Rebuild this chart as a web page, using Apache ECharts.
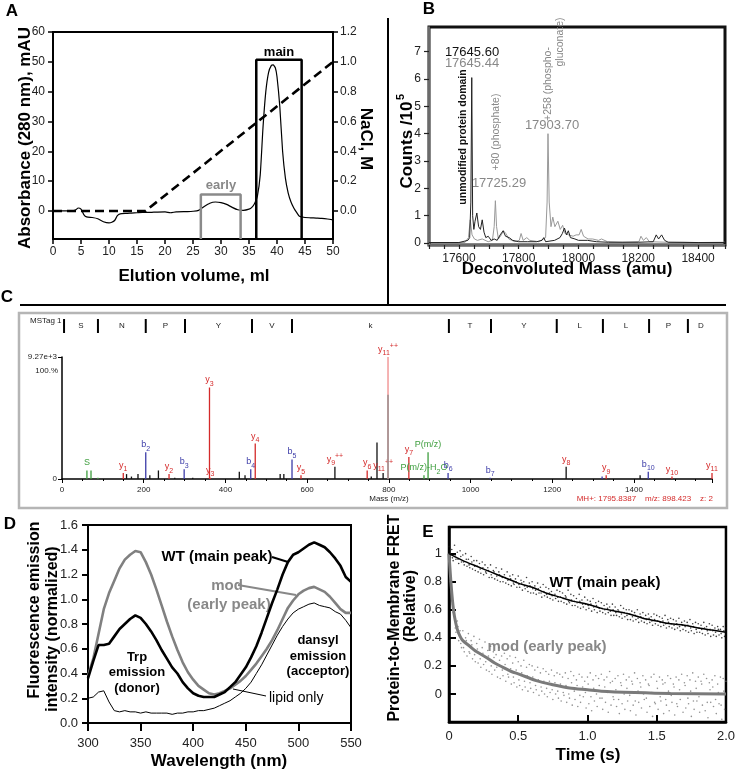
<!DOCTYPE html>
<html>
<head>
<meta charset="utf-8">
<script src="https://cdn.jsdelivr.net/npm/echarts@6/dist/echarts.min.js"></script>
<style>
html,body{margin:0;padding:0;background:#fff;}
#chart{width:738px;height:772px;}
</style>
</head>
<body>
<div id="chart"></div>
<script>
// ---- A: anion exchange elution ----
var elutionVol = [0,1,2,3,4,4.5,5,5.5,6,7,8,9,10,10.5,11,11.5,12,13,14,15,16,17,18,20,21,22,24,25,26,27,28,29,30,31,32,33,34,35,35.5,36,36.5,37,37.5,38,38.5,39,39.3,39.7,40,40.5,41,41.5,42,42.5,43,43.5,44,45,46,47,48,49,50];
var absorbance = [0,0,0,0,0.3,1.0,0.6,-1.2,-2.0,-2.2,-2.6,-3.6,-4.0,-3.8,-3.2,-1.6,-1.0,-0.8,-0.7,-0.6,-0.5,-0.5,-0.4,-0.3,-0.6,-0.3,-0.2,-0.1,0.2,1.5,2.6,3.0,2.8,2.2,1.2,0.4,0.2,0.6,1.2,2.5,5,12,28,40,46.5,48.8,49,48,45,35,20,11,6,3,1,-0.5,-1.8,-2.2,-2.3,-2.4,-2.5,-2.7,-3.0];
var gradientVol = [0,16.5,50];
var gradientNaCl = [0,0,1.0];
var earlyRange = [26.4,33.5], earlyTop = 5.5;
var mainRange = [36.3,44.4], mainTop = 50.7;
var absTicks = [0,10,20,30,40,50,60];
var naclTicks = [0,0.2,0.4,0.6,0.8,1.0,1.2];

// ---- B: deconvoluted mass spectra ----
var massBlack = [17500,17600,17630,17636,17640,17643,17646,17650,17654,17660,17666,17672,17678,17684,17690,17698,17708,17718,17728,17738,17748,17756,17768,17780,17800,17830,17860,17878,17884,17890,17920,17938,17946,17953,17960,17966,17973,17988,18000,18030,18060,18100,18200,18250,18260,18268,18278,18288,18300,18400,18490];
var countBlack = [0.02,0.02,0.1,0.2,1.5,6.05,1.0,0.5,0.8,1.1,0.6,0.5,0.85,0.4,0.2,0.25,0.1,0.15,0.1,0.3,0.45,0.25,0.2,0.1,0.05,0.05,0.05,0.1,0.2,0.05,0.1,0.2,0.35,0.55,0.3,0.45,0.2,0.15,0.1,0.1,0.05,0.03,0.03,0.05,0.3,0.15,0.3,0.1,0.03,0.02,0.02];
var massGray = [17500,17620,17632,17638,17644,17652,17662,17678,17698,17712,17718,17722,17726,17732,17742,17749,17757,17767,17787,17802,17808,17815,17827,17837,17867,17890,17895,17898,17902,17908,17914,17921,17931,17939,17947,17955,17967,17982,17992,18002,18009,18017,18032,18047,18067,18077,18097,18147,18202,18209,18217,18227,18237,18297,18347,18400,18490];
var countGray = [0.02,0.02,0.2,0.85,0.3,0.15,0.1,0.15,0.05,0.1,0.6,1.55,0.6,0.15,0.3,0.45,0.35,0.15,0.05,0.1,0.35,0.1,0.2,0.1,0.05,0.2,1.5,4.0,1.5,0.6,0.95,0.6,0.8,0.5,0.65,0.35,0.3,0.25,0.3,0.3,0.5,0.25,0.15,0.15,0.1,0.15,0.05,0.03,0.05,0.25,0.1,0.2,0.05,0.03,0.03,0.02,0.03];
var countTicks = [0,1,2,3,4,5,6,7];

// ---- C: MS/MS spectrum ----
var msMz = [61,71,88,150,158,170,186,205,215,236,262,276,299,320,361,363,434,448,462,473,534,543,563,585,668,747,757,771,786,798,798,849,886,896,945,1048,1234,1322,1332,1415,1435,1493,1591];
var msRel = [0.07,0.07,0.01,0.05,0.04,0.02,0.04,0.22,0.03,0.07,0.04,0.01,0.08,0.01,0.75,0.01,0.06,0.03,0.08,0.29,0.04,0.04,0.16,0.03,0.10,0.07,0.02,0.30,0.05,1.0,0.69,0.18,0.03,0.22,0.05,0.01,0.10,0.02,0.03,0.03,0.06,0.02,0.05];
var msKind = ['g','g','g','y','k','k','k','b','k','k','y','k','b','k','y','y','k','k','b','y','k','k','b','y','k','y','k','k','k','p','x','y','g','g','b','b','k','b','y','k','b','y','y'];
var msLabel = ['S','','','y_1','','','','b_2','','','y_2','','b_3','','y_3','y_3','','','b_4','y_4','','','b_5','y_5','y_9^++','y_6','','','y_11^++','y_11^++','','y_7','P(m/z)-H_2O','P(m/z)','b_6','b_7','y_8','','y_9','','b_10','y_10','y_11'];
var seqMass = [5,88,205,301,465,563,947,1050,1211,1324,1437,1532,1596];
var seqLetters = ['S','N','P','Y','V','k','T','Y','L','L','P','D'];

// ---- D: emission spectra ----
var wavelengths = [300,305,310,315,320,325,330,335,340,345,350,355,360,365,370,375,380,385,390,395,400,405,410,415,420,425,430,435,440,445,450,455,460,465,470,475,480,485,490,495,500,505,510,515,520,525,530,535,540,545,550];
var wtEmission = [0.36,0.50,0.63,0.63,0.64,0.70,0.76,0.80,0.84,0.87,0.85,0.80,0.74,0.67,0.59,0.52,0.45,0.40,0.33,0.28,0.24,0.22,0.21,0.21,0.21,0.23,0.25,0.29,0.33,0.39,0.45,0.53,0.62,0.73,0.85,0.97,1.08,1.20,1.30,1.36,1.38,1.41,1.44,1.46,1.44,1.42,1.38,1.33,1.27,1.18,1.14];
var modEmission = [0.38,0.52,0.72,0.92,1.05,1.15,1.25,1.32,1.36,1.39,1.38,1.30,1.20,1.08,0.95,0.82,0.70,0.59,0.49,0.41,0.35,0.30,0.27,0.24,0.23,0.24,0.26,0.28,0.31,0.34,0.38,0.43,0.48,0.54,0.60,0.67,0.75,0.84,0.93,0.99,1.04,1.07,1.09,1.10,1.08,1.06,1.02,0.97,0.92,0.89,0.89];
var lipidEmission = [0.20,0.21,0.25,0.26,0.17,0.10,0.09,0.10,0.09,0.09,0.08,0.09,0.08,0.08,0.08,0.08,0.07,0.08,0.08,0.09,0.09,0.10,0.10,0.11,0.12,0.14,0.16,0.18,0.21,0.24,0.28,0.33,0.40,0.47,0.55,0.63,0.71,0.78,0.84,0.89,0.92,0.94,0.96,0.97,0.95,0.94,0.93,0.90,0.88,0.83,0.77];

// ---- E: stopped-flow FRET (points every 0.02 s, three interleaved reads) ----
var scatterStep = 0.02;
var wtPointsA = [1.05,1.03,1.06,1.01,1.02, 0.99,1.00,0.96,0.98,0.95, 0.95,0.93,0.94,0.92,0.90, 0.92,0.88,0.90,0.87,0.89, 0.85,0.87,0.84,0.85,0.82, 0.84,0.81,0.80,0.83,0.79, 0.80,0.77,0.79,0.76,0.78, 0.76,0.75,0.73,0.77,0.74, 0.73,0.72,0.70,0.74,0.71, 0.70,0.68,0.71,0.67,0.69, 0.67,0.66,0.68,0.65,0.66, 0.65,0.63,0.64,0.62,0.64, 0.62,0.60,0.63,0.61,0.60, 0.60,0.59,0.58,0.60,0.57, 0.58,0.56,0.57,0.55,0.57, 0.56,0.55,0.54,0.56,0.53, 0.54,0.53,0.52,0.54,0.51, 0.52,0.51,0.53,0.50,0.51, 0.50,0.49,0.51,0.48,0.50, 0.49,0.47,0.48,0.46,0.48, 0.47];
var wtPointsB = [0.97,0.95,0.96,0.93,0.94, 0.92,0.91,0.90,0.89,0.88, 0.87,0.86,0.85,0.86,0.83, 0.83,0.82,0.81,0.80,0.80, 0.79,0.78,0.77,0.78,0.76, 0.76,0.74,0.75,0.73,0.72, 0.72,0.71,0.72,0.69,0.70, 0.69,0.68,0.67,0.68,0.66, 0.66,0.65,0.64,0.65,0.63, 0.63,0.62,0.61,0.62,0.60, 0.61,0.59,0.60,0.58,0.59, 0.58,0.57,0.58,0.56,0.56, 0.56,0.55,0.54,0.55,0.53, 0.53,0.52,0.53,0.51,0.52, 0.51,0.50,0.51,0.49,0.50, 0.49,0.48,0.49,0.47,0.48, 0.47,0.46,0.47,0.45,0.46, 0.45,0.44,0.45,0.43,0.44, 0.44,0.43,0.42,0.43,0.41, 0.42,0.41,0.42,0.40,0.41];
var wtPointsC = [1.00,0.97,0.99,0.96,0.98, 0.94,0.96,0.92,0.94,0.91, 0.91,0.89,0.90,0.87,0.88, 0.85,0.87,0.84,0.85,0.83, 0.83,0.81,0.82,0.79,0.80, 0.78,0.79,0.77,0.76,0.77, 0.75,0.74,0.75,0.72,0.73, 0.71,0.72,0.70,0.71,0.69, 0.69,0.68,0.69,0.66,0.67, 0.66,0.65,0.66,0.64,0.64, 0.63,0.64,0.62,0.63,0.61, 0.61,0.60,0.61,0.59,0.60, 0.58,0.59,0.57,0.58,0.56, 0.57,0.55,0.56,0.54,0.55, 0.54,0.53,0.54,0.52,0.53, 0.52,0.51,0.52,0.50,0.51, 0.50,0.49,0.50,0.48,0.49, 0.48,0.49,0.47,0.48,0.46, 0.47,0.46,0.47,0.45,0.46, 0.45,0.44,0.46,0.43,0.45];
var modPointsA = [0.98,0.70,0.60,0.52,0.45, 0.45,0.40,0.43,0.38,0.41, 0.36,0.39,0.33,0.37,0.31, 0.34,0.30,0.28,0.33,0.27, 0.29,0.25,0.27,0.22,0.26, 0.23,0.20,0.24,0.19,0.21, 0.20,0.17,0.19,0.15,0.18, 0.16,0.14,0.17,0.13,0.15, 0.14,0.12,0.15,0.11,0.16, 0.13,0.10,0.14,0.12,0.09, 0.12,0.15,0.10,0.13,0.11, 0.14,0.10,0.12,0.16,0.09, 0.11,0.13,0.08,0.14,0.10, 0.12,0.09,0.15,0.11,0.08, 0.13,0.10,0.07,0.12,0.14, 0.09,0.12,0.10,0.08,0.13, 0.11,0.07,0.12,0.10,0.14, 0.08,0.13,0.10,0.15,0.09, 0.12,0.09,0.14,0.11,0.08, 0.10,0.13,0.07,0.12,0.11, 0.09];
var modPointsB = [0.80,0.58,0.44,0.38,0.33, 0.30,0.27,0.29,0.25,0.23, 0.22,0.19,0.21,0.17,0.16, 0.14,0.17,0.12,0.11,0.13, 0.09,0.12,0.07,0.08,0.05, 0.06,0.03,0.05,0.02,0.04, 0.01,0.03,-0.01,0.02,0.00, -0.02,0.01,-0.04,0.00,-0.03, -0.05,-0.01,-0.06,-0.03,-0.08, -0.04,-0.09,-0.06,-0.02,-0.10, -0.07,-0.12,-0.05,-0.09,-0.03, -0.11,-0.06,-0.13,-0.08,-0.04, -0.09,-0.14,-0.07,-0.11,-0.05, -0.12,-0.08,-0.15,-0.06,-0.10, -0.04,-0.13,-0.09,-0.16,-0.07, -0.11,-0.05,-0.14,-0.08,-0.12, -0.06,-0.15,-0.09,-0.04,-0.13, -0.10,-0.07,-0.16,-0.11,-0.05, -0.13,-0.08,-0.12,-0.17,-0.06, -0.09,-0.14,-0.07,-0.18,-0.11];
var modPointsC = [0.90,0.64,0.47,0.48,0.36, 0.33,0.38,0.30,0.35,0.28, 0.32,0.25,0.29,0.23,0.27, 0.20,0.26,0.19,0.24,0.17, 0.21,0.14,0.18,0.12,0.17, 0.10,0.15,0.09,0.13,0.08, 0.12,0.06,0.10,0.05,0.09, 0.04,0.09,0.03,0.08,0.02, 0.07,0.01,0.06,0.00,0.08, 0.02,0.06,-0.01,0.05,0.01, 0.07,-0.02,0.04,0.00,0.06, -0.03,0.05,0.01,0.08,-0.02, 0.03,-0.04,0.06,0.00,0.04, -0.01,0.07,-0.05,0.02,0.05, 0.00,-0.03,0.06,0.01,-0.06, 0.04,-0.02,0.07,-0.04,0.02, -0.01,0.05,-0.07,0.03,0.00, 0.06,-0.03,0.02,-0.05,0.04, -0.02,0.07,0.00,-0.06,0.03, 0.05,-0.04,0.01,-0.08,0.02];
var wtFitTime = [0,0.1,0.2,0.3,0.4,0.5,0.6,0.7,0.8,0.9,1.0,1.1,1.2,1.3,1.4,1.5,1.6,1.7,1.8,1.9,2.0];
var wtFitRel = [1.00,0.95,0.91,0.87,0.83,0.79,0.76,0.72,0.69,0.66,0.64,0.61,0.59,0.57,0.54,0.52,0.50,0.49,0.47,0.455,0.44];
var modFitTime = [0,0.01,0.02,0.03,0.04,0.06,0.08,0.1,0.15,0.2,0.27,0.33,0.39,0.45,0.51,0.63,0.75,0.87,1.0,1.1,1.34,1.6,2.0];
var modFitRel = [1.0,0.85,0.72,0.62,0.55,0.46,0.41,0.38,0.34,0.30,0.26,0.22,0.19,0.16,0.14,0.095,0.066,0.043,0.03,0.02,0.01,0.003,0.0];
var fretTicks = [0,0.2,0.4,0.6,0.8,1.0];

var FONT = '"Liberation Sans", Arial, Helvetica, sans-serif';
var RED = '#d42a2a', BLUE = '#3c3ca8', GREEN = '#3e9e3e';
var kindColor = {g: GREEN, y: RED, b: BLUE, k: '#111', p: '#f08a8a', x: '#8a8a8a'};

function zip(xs, ys) {
    var out = [];
    for (var i = 0; i < xs.length; i++) {
        out.push([xs[i], ys[i]]);
    }
    return out;
}

function stepPoints(values, offset) {
    var out = [];
    for (var i = 0; i < values.length; i++) {
        out.push([offset + i * scatterStep, values[i]]);
    }
    return out;
}

// text width for ion labels
var measureCtx = document.createElement('canvas').getContext('2d');
function textWidth(str, size) {
    measureCtx.font = size + 'px ' + FONT;
    return measureCtx.measureText(str).width;
}

// 'y_11^++' -> [['m','y'],['s','11'],['p','++']]
function parseIon(s) {
    var segs = [], cur = '', mode = 'm';
    for (var i = 0; i < s.length; i++) {
        var ch = s.charAt(i);
        if (ch === '_' || ch === '^') {
            if (cur) segs.push([mode, cur]);
            cur = '';
            mode = ch === '_' ? 's' : 'p';
            continue;
        }
        if (mode === 's' && !/[0-9]/.test(ch)) {
            if (cur) segs.push([mode, cur]);
            cur = '';
            mode = 'm';
        }
        cur += ch;
    }
    if (cur) segs.push([mode, cur]);
    return segs;
}

function txt(x, y, text, size, opts) {
    opts = opts || {};
    return {
        type: 'text', x: x, y: y, rotation: opts.rotation || 0, silent: true,
        style: {
            text: text,
            font: (opts.bold ? 'bold ' : '') + size + 'px ' + FONT,
            fill: opts.color || '#000',
            align: opts.align || 'center', textAlign: opts.align || 'center',
            verticalAlign: 'middle', textVerticalAlign: 'middle'
        }
    };
}

function seg(x1, y1, x2, y2, color, w) {
    return {type: 'line', silent: true, shape: {x1: x1, y1: y1, x2: x2, y2: y2}, style: {stroke: color, lineWidth: w}};
}

function renderPeak(params, api) {
    var i = params.dataIndex;
    var base = api.coord([api.value(0), 0]);
    var top = api.coord([api.value(0), api.value(1)]);
    var children = [{
        type: 'line',
        shape: {x1: base[0], y1: base[1], x2: top[0], y2: top[1]},
        style: {stroke: kindColor[msKind[i]], lineWidth: 1.3}
    }];
    var label = msLabel[i];
    if (label) {
        var first = label.charAt(0);
        var col = first === 'y' ? RED : (first === 'b' ? BLUE : GREEN);
        var segs = parseIon(label);
        var sizes = {m: 9, s: 7, p: 7};
        var dy = {m: 0, s: 3, p: -4};
        var total = 0;
        segs.forEach(function (sg) { total += textWidth(sg[1], sizes[sg[0]]); });
        var x = top[0] - total / 2;
        var y = top[1] - 3;
        segs.forEach(function (sg) {
            children.push({
                type: 'text', x: x, y: y + dy[sg[0]],
                style: {
                    text: sg[1], fill: col, font: sizes[sg[0]] + 'px ' + FONT,
                    align: 'left', textAlign: 'left', verticalAlign: 'bottom', textVerticalAlign: 'bottom'
                }
            });
            x += textWidth(sg[1], sizes[sg[0]]);
        });
    }
    return {type: 'group', children: children};
}

// sequence ladder above the MS/MS spectrum
function renderSeq(params, api) {
    var i = params.dataIndex;
    var x = api.coord([api.value(0), 0])[0];
    var children = [];
    if (i < seqLetters.length) {
        var xNext = api.coord([seqMass[i + 1], 0])[0];
        children.push({type: 'line', shape: {x1: x, y1: 319, x2: x, y2: 333}, style: {stroke: '#000', lineWidth: 2}});
        children.push({
            type: 'text', x: (x + xNext) / 2, y: 326,
            style: {text: seqLetters[i], fill: '#222', font: '8px ' + FONT,
                align: 'center', textAlign: 'center', verticalAlign: 'middle', textVerticalAlign: 'middle'}
        });
    }
    return {type: 'group', children: children};
}

var chart = echarts.init(document.getElementById('chart'));

function lbl(extra) {
    var o = {fontFamily: FONT, fontSize: 12, color: '#222'};
    for (var k in extra) o[k] = extra[k];
    return o;
}

var absMin = -9.4;
var naclMin = absMin / 50;

var option = {
    animation: false,
    backgroundColor: '#fff',
    textStyle: {fontFamily: FONT},
    grid: [
        {left: 53, top: 32, width: 280, height: 207, show: true, borderColor: '#000', borderWidth: 2},
        {left: 429, top: 27, width: 296, height: 218, show: true, borderColor: '#111', borderWidth: 3},
        {left: 62, top: 357, width: 650, height: 122},
        {left: 88, top: 525, width: 263, height: 198, show: true, borderColor: '#000', borderWidth: 2},
        {left: 449, top: 527, width: 278, height: 195, show: true, borderColor: '#000', borderWidth: 2.5}
    ],
    xAxis: [
        {
            gridIndex: 0, type: 'value', min: 0, max: 50, interval: 5,
            axisLine: {onZero: false, lineStyle: {color: '#000', width: 2}},
            axisTick: {length: 5, lineStyle: {color: '#000', width: 1.5}},
            axisLabel: lbl({margin: 7}),
            splitLine: {show: false}
        },
        {
            gridIndex: 1, type: 'value', min: 17500, max: 18490, interval: 50,
            axisLine: {onZero: false, lineStyle: {color: '#888', width: 1.5}},
            axisTick: {length: 4, lineStyle: {color: '#222', width: 1.2}},
            axisLabel: lbl({margin: 8, interval: 0, formatter: function (v) {
                return (v % 200 === 0 && v > 17500) ? String(v) : '';
            }}),
            splitLine: {show: false}
        },
        {
            gridIndex: 2, type: 'value', min: 0, max: 1591, interval: 200,
            axisLine: {onZero: false, lineStyle: {color: '#000', width: 1.5}},
            axisTick: {length: 4, lineStyle: {color: '#000', width: 1}},
            minorTick: {show: true, splitNumber: 4, length: 2, lineStyle: {color: '#000'}},
            axisLabel: lbl({fontSize: 8, margin: 7, formatter: function (v) {
                return v % 200 === 0 ? String(v) : '';
            }}),
            splitLine: {show: false}
        },
        {
            gridIndex: 3, type: 'value', min: 300, max: 550, interval: 50,
            axisLine: {onZero: false, lineStyle: {color: '#000', width: 2}},
            axisTick: {length: 8, lineStyle: {color: '#000', width: 2}},
            axisLabel: lbl({fontSize: 13, margin: 14}),
            splitLine: {show: false}
        },
        {
            gridIndex: 4, type: 'value', min: 0, max: 2, interval: 0.5,
            axisLine: {onZero: false, lineStyle: {color: '#000', width: 2.5}},
            axisTick: {inside: true, length: 7, lineStyle: {color: '#000', width: 2}},
            axisLabel: lbl({fontSize: 13, margin: 8, formatter: function (v) {
                return v === 0 ? '0' : v.toFixed(1);
            }}),
            splitLine: {show: false}
        }
    ],
    yAxis: [
        {
            gridIndex: 0, type: 'value', min: absMin, max: 60,
            axisLine: {onZero: false, lineStyle: {color: '#000', width: 2}},
            axisTick: {length: 5, customValues: absTicks, lineStyle: {color: '#000', width: 1.5}},
            axisLabel: lbl({margin: 8, customValues: absTicks}),
            splitLine: {show: false}
        },
        {
            gridIndex: 0, type: 'value', position: 'right', min: naclMin, max: 1.2,
            axisLine: {show: true, onZero: false, lineStyle: {color: '#000', width: 2}},
            axisTick: {show: true, length: 5, customValues: naclTicks, lineStyle: {color: '#000', width: 1.5}},
            axisLabel: lbl({margin: 7, customValues: naclTicks, formatter: function (v) { return v.toFixed(1); }}),
            splitLine: {show: false}
        },
        {
            gridIndex: 1, type: 'value', min: -0.07, max: 7.9,
            axisLine: {onZero: false, lineStyle: {color: '#888', width: 1.5}},
            axisTick: {length: 5, customValues: countTicks, lineStyle: {color: '#222', width: 1.2}},
            axisLabel: lbl({margin: 8, customValues: countTicks}),
            splitLine: {show: false}
        },
        {
            gridIndex: 2, type: 'value', min: 0, max: 1,
            axisLine: {onZero: false, lineStyle: {color: '#000', width: 1.5}},
            axisTick: {length: 4, customValues: [0, 1], lineStyle: {color: '#000'}},
            axisLabel: lbl({fontSize: 8, margin: 5, customValues: [0, 1], formatter: function (v) {
                return v === 0 ? '0' : '9.27e+3';
            }}),
            splitLine: {show: false}
        },
        {
            gridIndex: 3, type: 'value', min: 0, max: 1.6, interval: 0.2,
            axisLine: {onZero: false, lineStyle: {color: '#000', width: 2}},
            axisTick: {length: 6, lineStyle: {color: '#000', width: 2}},
            axisLabel: lbl({fontSize: 13, margin: 10, formatter: function (v) { return v.toFixed(1); }}),
            splitLine: {show: false}
        },
        {
            gridIndex: 4, type: 'value', min: -0.2, max: 1.19,
            axisLine: {onZero: false, lineStyle: {color: '#000', width: 2.5}},
            axisTick: {inside: true, length: 7, customValues: fretTicks, lineStyle: {color: '#000', width: 2}},
            axisLabel: lbl({fontSize: 13, margin: 7, customValues: fretTicks, formatter: function (v) {
                return (v === 0 || v === 1) ? String(v) : v.toFixed(1);
            }}),
            splitLine: {show: false}
        }
    ],
    series: [
        // A
        {
            type: 'line', xAxisIndex: 0, yAxisIndex: 0, data: zip(elutionVol, absorbance),
            showSymbol: false, smooth: 0.2, lineStyle: {color: '#000', width: 1.2}
        },
        {
            type: 'line', xAxisIndex: 0, yAxisIndex: 1, data: zip(gradientVol, gradientNaCl),
            showSymbol: false, lineStyle: {color: '#000', width: 2.6, type: [9, 5]}
        },
        {
            type: 'line', xAxisIndex: 0, yAxisIndex: 0, showSymbol: false,
            data: [[earlyRange[0], absMin], [earlyRange[0], earlyTop], [earlyRange[1], earlyTop], [earlyRange[1], absMin]],
            lineStyle: {color: '#8a8a8a', width: 2.5}
        },
        {
            type: 'line', xAxisIndex: 0, yAxisIndex: 0, showSymbol: false,
            data: [[mainRange[0], absMin], [mainRange[0], mainTop], [mainRange[1], mainTop], [mainRange[1], absMin]],
            lineStyle: {color: '#000', width: 2.5}
        },
        // B
        {
            type: 'line', xAxisIndex: 1, yAxisIndex: 2, data: zip(massGray, countGray),
            showSymbol: false, lineStyle: {color: '#999', width: 1}
        },
        {
            type: 'line', xAxisIndex: 1, yAxisIndex: 2, data: zip(massBlack, countBlack),
            showSymbol: false, lineStyle: {color: '#222', width: 1}
        },
        // C
        {
            type: 'custom', xAxisIndex: 2, yAxisIndex: 3, renderItem: renderPeak,
            data: zip(msMz, msRel), silent: true
        },
        {
            type: 'custom', xAxisIndex: 2, yAxisIndex: 3, renderItem: renderSeq,
            data: seqMass.map(function (m) { return [m, 0]; }), silent: true
        },
        // D
        {
            type: 'line', xAxisIndex: 3, yAxisIndex: 4, data: zip(wavelengths, lipidEmission),
            showSymbol: false, lineStyle: {color: '#000', width: 1}
        },
        {
            type: 'line', xAxisIndex: 3, yAxisIndex: 4, data: zip(wavelengths, modEmission),
            showSymbol: false, lineStyle: {color: '#808080', width: 2.6}
        },
        {
            type: 'line', xAxisIndex: 3, yAxisIndex: 4, data: zip(wavelengths, wtEmission),
            showSymbol: false, lineStyle: {color: '#000', width: 2.6}
        },
        // E
        {
            type: 'scatter', xAxisIndex: 4, yAxisIndex: 5, data: stepPoints(modPointsA, 0),
            symbolSize: 1.6, itemStyle: {color: '#777'}
        },
        {
            type: 'scatter', xAxisIndex: 4, yAxisIndex: 5, data: stepPoints(modPointsB, 0.01),
            symbolSize: 1.6, itemStyle: {color: '#777'}
        },
        {
            type: 'scatter', xAxisIndex: 4, yAxisIndex: 5, data: stepPoints(modPointsC, 0.005),
            symbolSize: 1.6, itemStyle: {color: '#777'}
        },
        {
            type: 'scatter', xAxisIndex: 4, yAxisIndex: 5, data: stepPoints(wtPointsA, 0),
            symbolSize: 1.6, itemStyle: {color: '#111'}
        },
        {
            type: 'scatter', xAxisIndex: 4, yAxisIndex: 5, data: stepPoints(wtPointsB, 0.01),
            symbolSize: 1.6, itemStyle: {color: '#111'}
        },
        {
            type: 'scatter', xAxisIndex: 4, yAxisIndex: 5, data: stepPoints(wtPointsC, 0.005),
            symbolSize: 1.6, itemStyle: {color: '#111'}
        },
        {
            type: 'line', xAxisIndex: 4, yAxisIndex: 5, data: zip(modFitTime, modFitRel),
            showSymbol: false, smooth: 0.3, lineStyle: {color: '#7a7a7a', width: 3}
        },
        {
            type: 'line', xAxisIndex: 4, yAxisIndex: 5, data: zip(wtFitTime, wtFitRel),
            showSymbol: false, smooth: 0.3, lineStyle: {color: '#000', width: 1.5}
        }
    ],
    graphic: [
        // panel separators and C frame
        seg(388, 18, 388, 305, '#000', 2),
        seg(20, 305, 726, 305, '#000', 2),
        {type: 'rect', silent: true, shape: {x: 19, y: 313, width: 708, height: 195}, style: {fill: 'transparent', stroke: '#b5b5b5', lineWidth: 2.5}},
        // panel letters
        txt(12, 11, 'A', 17, {bold: true}),
        txt(429, 9, 'B', 17, {bold: true}),
        txt(7, 297, 'C', 17, {bold: true}),
        txt(10, 524, 'D', 17, {bold: true}),
        txt(428, 532, 'E', 17, {bold: true}),
        // A
        txt(194, 276, 'Elution volume, ml', 17, {bold: true}),
        txt(25, 138, 'Absorbance (280 nm), mAU', 17, {bold: true, rotation: Math.PI / 2}),
        txt(366, 139, 'NaCl, M', 17, {bold: true, rotation: -Math.PI / 2}),
        txt(221, 185, 'early', 13, {bold: true, color: '#888'}),
        txt(279, 52, 'main', 13, {bold: true}),
        // B
        txt(407, 145, 'Counts /10', 17, {bold: true, rotation: Math.PI / 2}),
        txt(401, 97, '5', 11, {bold: true, rotation: Math.PI / 2}),
        txt(567, 269, 'Deconvoluted Mass (amu)', 17, {bold: true}),
        txt(472, 52, '17645.60', 13, {color: '#111'}),
        txt(472, 63, '17645.44', 13, {color: '#888'}),
        txt(463, 137, 'unmodified protein domain', 10.5, {bold: true, color: '#111', rotation: Math.PI / 2}),
        txt(496, 132, '+80 (phosphate)', 10.5, {color: '#888', rotation: Math.PI / 2}),
        txt(548, 84, '+258 (phospho-', 10.5, {color: '#888', rotation: Math.PI / 2}),
        txt(560, 42, 'gluconate)', 10.5, {color: '#888', rotation: Math.PI / 2}),
        txt(552, 125, '17903.70', 13, {color: '#888'}),
        txt(499, 183, '17725.29', 13, {color: '#888'}),
        // C
        txt(30, 321, 'MSTag 1', 8, {align: 'left', color: '#222'}),
        txt(58, 371, '100.%', 8, {align: 'right', color: '#222'}),
        txt(389, 499, 'Mass (m/z)', 8, {color: '#222'}),
        txt(713, 499, 'MH+: 1795.8387    m/z: 898.423    z: 2', 8, {align: 'right', color: RED}),
        // D
        txt(35, 610, 'Fluorescence emission', 16, {bold: true, rotation: Math.PI / 2}),
        txt(53, 629, 'intensity (normalized)', 16, {bold: true, rotation: Math.PI / 2}),
        txt(219, 761, 'Wavelength (nm)', 17, {bold: true}),
        txt(217, 557, 'WT (main peak)', 15, {bold: true}),
        seg(272, 557, 288, 562, '#000', 2),
        txt(227, 586, 'mod', 15, {bold: true, color: '#888'}),
        txt(229, 605, '(early peak)', 15, {bold: true, color: '#888'}),
        seg(238, 585, 296, 595, '#888', 2),
        txt(137, 657, 'Trp', 13, {bold: true}),
        txt(137, 672, 'emission', 13, {bold: true}),
        txt(137, 688, '(donor)', 13, {bold: true}),
        txt(318, 640, 'dansyl', 13, {bold: true}),
        txt(318, 656, 'emission', 13, {bold: true}),
        txt(318, 671, '(acceptor)', 13, {bold: true}),
        txt(269, 698, 'lipid only', 14, {align: 'left'}),
        seg(266, 696, 233, 689, '#000', 1),
        // E
        txt(395, 618, 'Protein-to-Membrane FRET', 16, {bold: true, rotation: Math.PI / 2}),
        txt(411, 606, '(Relative)', 16, {bold: true, rotation: Math.PI / 2}),
        txt(588, 755, 'Time (s)', 17, {bold: true}),
        txt(605, 583, 'WT (main peak)', 15, {bold: true}),
        txt(547, 647, 'mod (early peak)', 15, {bold: true, color: '#888'})
    ]
};

chart.setOption(option);
</script>
</body>
</html>
